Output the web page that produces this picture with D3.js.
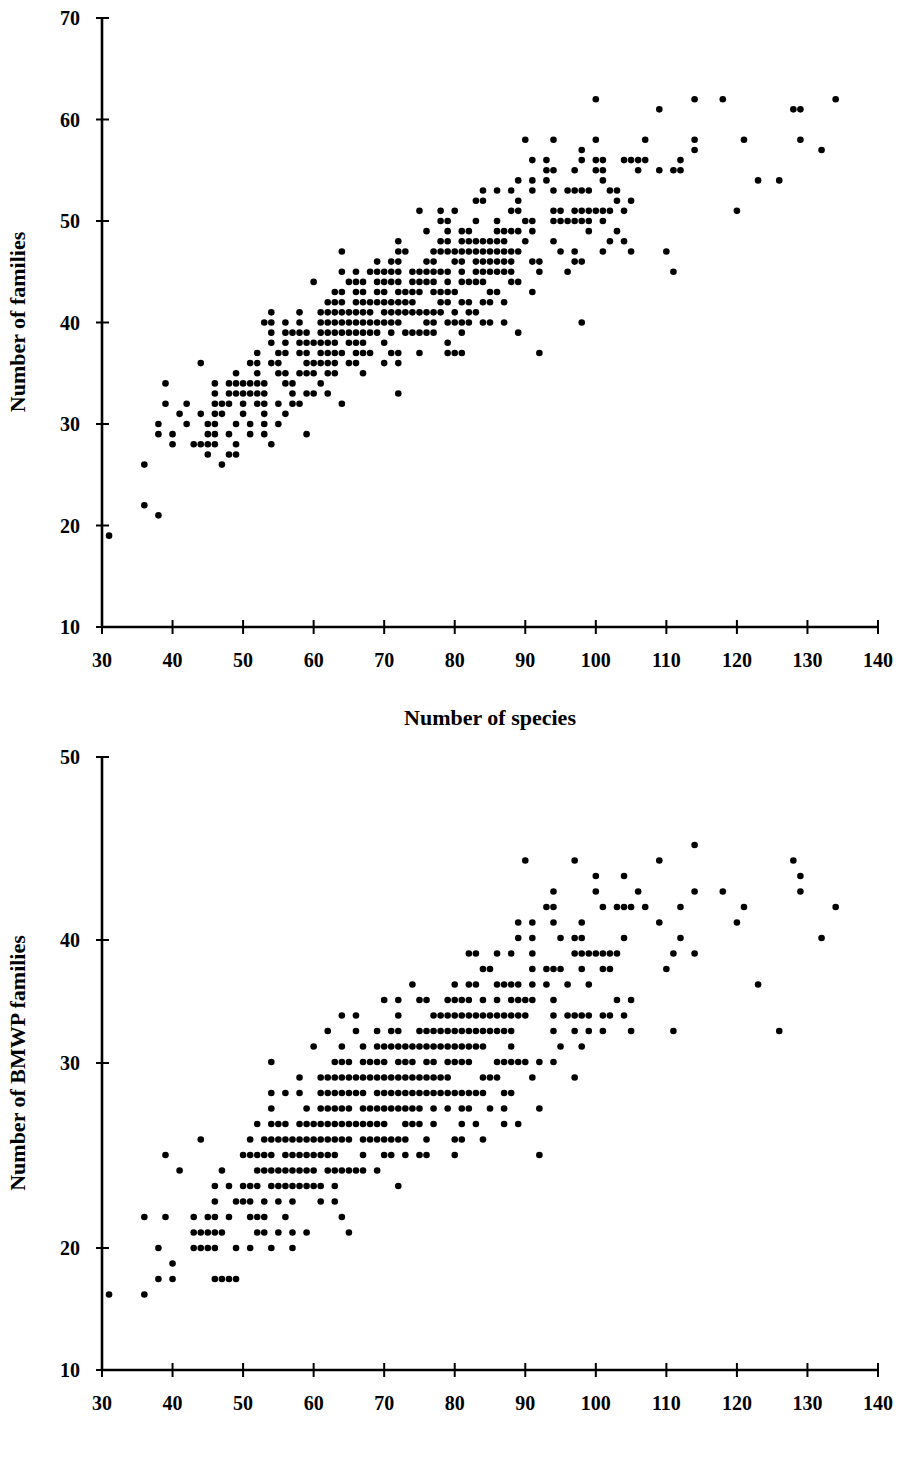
<!DOCTYPE html>
<html><head><meta charset="utf-8">
<script src="https://cdnjs.cloudflare.com/ajax/libs/d3/7.8.5/d3.min.js"></script>
<style>body{margin:0;background:#fff}svg{display:block}</style>
</head><body>
<script>
// ---- data: [families, [species values...]] rows ----
const topData = [
 [62,[100,114,118,134]],
 [61,[109,128,129]],
 [58,[90,94,100,107,114,121,129]],
 [57,[98,114,132]],
 [56,[91,93,98,100,101,104,105,106,107,112]],
 [55,[93,94,97,100,101,106,109,111,112]],
 [54,[89,91,93,101,123,126]],
 [53,[84,86,88,91,94,96,97,98,99,102,103]],
 [52,[83,84,89,103,105]],
 [51,[75,78,80,88,89,94,95,97,98,99,100,101,102,104,120]],
 [50,[78,79,83,86,90,91,94,95,96,97,98,99,101]],
 [49,[76,79,81,82,86,87,88,89,91,99,103]],
 [48,[72,78,79,81,82,83,84,85,86,87,90,94,102,104]],
 [47,[64,72,73,77,78,79,80,81,82,83,84,85,86,87,88,89,95,97,101,105,110]],
 [46,[69,71,72,76,77,80,81,83,84,85,86,87,88,91,92,97,98]],
 [45,[64,66,68,69,70,71,72,74,75,76,77,78,79,81,83,84,85,86,87,88,92,96,111]],
 [44,[60,65,66,67,69,70,71,72,74,75,76,77,79,81,82,83,84,88,89]],
 [43,[63,64,66,67,69,70,72,73,74,75,77,78,79,80,85,86,91]],
 [42,[62,63,64,66,67,68,69,70,71,72,73,74,78,79,81,82,84,85,87]],
 [41,[54,58,61,62,63,64,65,66,67,68,70,71,72,73,74,75,76,77,78,80,82,83]],
 [40,[53,54,56,58,61,62,63,64,65,66,67,68,69,70,71,72,76,77,79,80,81,82,84,85,87,98]],
 [39,[54,56,57,58,59,61,62,63,64,65,66,67,68,69,71,73,74,75,76,77,81,89]],
 [38,[54,56,58,59,60,61,62,63,65,66,67,70,79]],
 [37,[52,55,56,58,59,61,62,63,64,66,67,68,71,72,75,79,80,81,92]],
 [36,[44,51,52,54,55,59,60,61,62,63,65,66,70,72]],
 [35,[49,52,55,56,58,59,60,62,63,67]],
 [34,[39,46,48,49,50,51,52,53,56,57,61]],
 [33,[46,48,49,50,51,52,53,57,59,60,62,72]],
 [32,[39,42,46,47,48,50,52,53,55,57,58,64]],
 [31,[41,44,46,47,50,53,56]],
 [30,[38,42,45,46,49,51,53,55]],
 [29,[38,40,45,46,48,51,53,59]],
 [28,[40,43,44,45,46,49,54]],
 [27,[45,48,49]],
 [26,[36,47]],
 [22,[36]],
 [21,[38]],
 [19,[31]]
];
const bottomData = [
 [46,[114]],
 [45,[90,97,109,128]],
 [44,[100,104,129]],
 [43,[94,100,106,114,118,129]],
 [42,[93,94,101,103,104,105,107,112,121,134]],
 [41,[89,91,94,98,109,120]],
 [40,[89,91,95,97,98,104,112,132]],
 [39,[82,83,86,88,91,97,98,99,100,101,102,103,111,114]],
 [38,[84,85,91,93,94,95,98,101,102,110]],
 [37,[74,80,82,83,86,87,88,89,91,93,96,99,123]],
 [36,[70,72,75,76,79,80,81,82,84,86,88,89,90,91,94,103,105]],
 [35,[64,66,72,77,78,79,80,81,82,83,84,85,86,87,88,89,90,94,96,97,98,99,101,102,104]],
 [34,[62,66,69,71,72,75,76,77,78,79,80,81,82,83,84,85,86,87,88,94,97,99,101,105,111,126]],
 [33,[60,64,67,69,70,71,72,73,74,75,76,77,78,79,80,81,82,83,84,88,95,98]],
 [32,[54,63,64,65,67,68,69,70,72,73,74,76,77,79,80,81,82,86,87,88,89,90,92,94]],
 [31,[58,61,62,63,64,65,66,67,68,69,70,71,72,73,74,75,76,77,78,79,84,85,86,91,97]],
 [30,[54,56,58,61,62,63,64,65,66,67,69,70,71,72,73,74,75,76,77,78,79,80,81,82,83,84,87,88]],
 [29,[54,59,61,62,63,64,65,67,68,69,70,71,72,73,74,75,77,79,81,82,85,87,92]],
 [28,[52,54,55,56,58,59,60,61,62,63,64,65,66,67,68,69,70,73,74,75,77,81,83,87,89]],
 [27,[44,51,53,54,55,56,57,58,59,60,61,62,63,64,65,67,68,69,70,71,72,73,76,80,81,84]],
 [26,[39,50,51,52,53,54,56,57,58,59,60,61,62,63,67,70,71,73,75,76,80,92]],
 [25,[41,47,52,53,54,55,56,57,58,59,60,62,63,64,65,66,67,69]],
 [24,[46,48,50,51,52,54,55,56,57,58,59,60,61,63,72]],
 [23,[46,49,50,51,53,55,57,61,63]],
 [22,[36,39,43,45,46,48,51,52,53,56,64]],
 [21,[43,44,45,46,47,52,53,55,57,59,65]],
 [20,[38,43,44,45,46,49,51,54,57]],
 [19,[40]],
 [18,[38,40,46,47,48,49]],
 [17,[31,36]]
];
const xTicks = [30,40,50,60,70,80,90,100,110,120,130,140];
const yTicksTop = [10,20,30,40,50,60,70];
const yTicksBottom = [10,20,30,40,50];
const xTitle = "Number of species";
const yTitleTop = "Number of families";
const yTitleBottom = "Number of BMWP families";

const W = 909, H = 1463;
const svg = d3.select("body").append("svg").attr("width", W).attr("height", H);
const FONT = "'Liberation Serif','Times New Roman',serif";

function flatten(rows){ const out=[]; rows.forEach(([y,xs])=>xs.forEach(x=>out.push([x,y]))); return out; }

// x, y: data scales; ya: scale used to place the y-axis ticks (the scanned axis is irregular)
function panel(data, x, y, ya, yTicks, yTitle, xTitleText, yTitleY){
  const g = svg.append("g");
  const xd = x.domain(), yd = ya.domain();
  const x0 = x(xd[0]), x1 = x(xd[xd.length-1]);
  const y0 = ya(yd[0]), y1 = ya(yd[yd.length-1]);
  g.append("line").attr("x1",x0).attr("x2",x0).attr("y1",y0).attr("y2",y1)
    .attr("stroke","#000").attr("stroke-width",2.6);
  g.append("line").attr("x1",x0).attr("x2",x1).attr("y1",y0).attr("y2",y0)
    .attr("stroke","#000").attr("stroke-width",2.6);
  g.selectAll(".yt").data(yTicks).join("line")
    .attr("x1",x0-6).attr("x2",x0+7).attr("y1",d=>ya(d)).attr("y2",d=>ya(d))
    .attr("stroke","#000").attr("stroke-width",2);
  g.selectAll(".yl").data(yTicks).join("text")
    .attr("x",x0-22).attr("y",d=>ya(d)).attr("dy","0.35em")
    .attr("text-anchor","end").attr("font-family",FONT).attr("font-weight","bold")
    .attr("font-size",20).text(d=>d);
  g.selectAll(".xt").data(xTicks).join("line")
    .attr("x1",d=>x(d)).attr("x2",d=>x(d)).attr("y1",y0-7).attr("y2",y0+7)
    .attr("stroke","#000").attr("stroke-width",2);
  g.selectAll(".xl").data(xTicks).join("text")
    .attr("x",d=>x(d)).attr("y",y0+40)
    .attr("text-anchor","middle").attr("font-family",FONT).attr("font-weight","bold")
    .attr("font-size",20).text(d=>d);
  if (xTitleText) g.append("text").attr("x",490).attr("y",y0+98)
    .attr("text-anchor","middle").attr("font-family",FONT).attr("font-weight","bold")
    .attr("font-size",22).text(xTitleText);
  g.append("text").attr("transform",`translate(25,${yTitleY}) rotate(-90)`)
    .attr("text-anchor","middle").attr("font-family",FONT).attr("font-weight","bold")
    .attr("font-size",22).text(yTitle);
  g.selectAll("circle").data(flatten(data)).join("circle")
    .attr("cx",d=>x(d[0])).attr("cy",d=>y(d[1])).attr("r",3.3).attr("fill","#000");
}

const xTop = d3.scaleLinear().domain([30,140]).range([102,878]);
const yTop = d3.scaleLinear().domain([10,70]).range([627,18]);
panel(topData, xTop, yTop, yTop, yTicksTop, yTitleTop, xTitle, 322);

const xBot = d3.scaleLinear().domain([30,140]).range([102,878]);
const yBot = d3.scaleLinear().domain([10,16,47,50]).range([1370,1310,829.5,757]);
const yBotAxis = d3.scaleLinear().domain([10,20,30,40,50]).range([1370,1248,1063,940,757]);
panel(bottomData, xBot, yBot, yBotAxis, yTicksBottom, yTitleBottom, null, 1063);
</script>
</body></html>
